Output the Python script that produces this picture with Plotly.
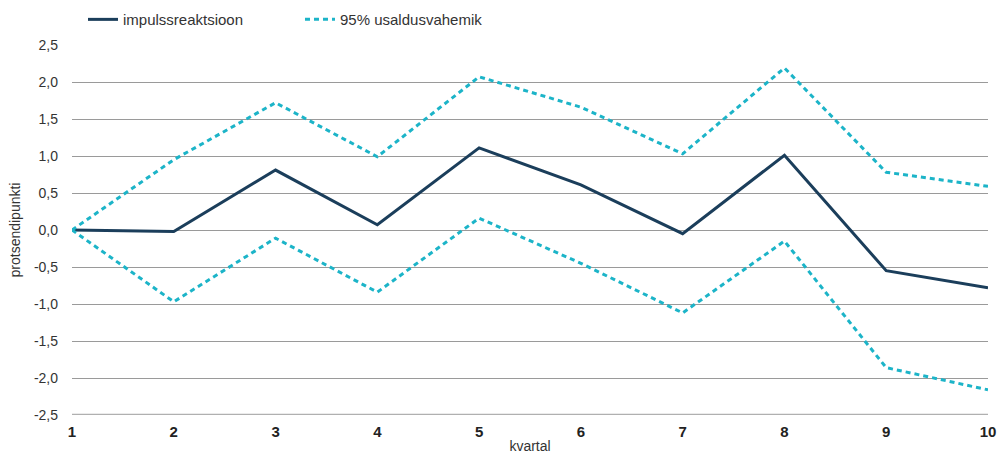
import plotly.graph_objects as go

quarters = [1, 2, 3, 4, 5, 6, 7, 8, 9, 10]
impulse = [0.0, -0.02, 0.81, 0.07, 1.11, 0.61, -0.05, 1.01, -0.55, -0.78]
upper = [0.0, 0.95, 1.72, 0.99, 2.07, 1.66, 1.03, 2.19, 0.78, 0.59]
lower = [0.0, -0.97, -0.11, -0.84, 0.16, -0.45, -1.12, -0.15, -1.86, -2.16]
y_ticks = [-2.5, -2.0, -1.5, -1.0, -0.5, 0.0, 0.5, 1.0, 1.5, 2.0, 2.5]
y_labels = ["-2,5", "-2,0", "-1,5", "-1,0", "-0,5", "0,0", "0,5", "1,0", "1,5", "2,0", "2,5"]

dark = "#1b3e5b"
cyan = "#1cb4c8"

fig = go.Figure()
fig.add_trace(go.Scatter(x=quarters, y=impulse, mode="lines", name="impulssreaktsioon",
                         line=dict(color=dark, width=3)))
fig.add_trace(go.Scatter(x=quarters, y=upper, mode="lines", name="95% usaldusvahemik",
                         line=dict(color=cyan, width=3, dash="5px,4px"), legendgroup="ci"))
fig.add_trace(go.Scatter(x=quarters, y=lower, mode="lines", name="95% usaldusvahemik",
                         line=dict(color=cyan, width=3, dash="5px,4px"), legendgroup="ci", showlegend=False))

fig.update_layout(
    width=1000, height=454,
    margin=dict(l=72, r=12, t=45, b=39, autoexpand=False),
    plot_bgcolor="white", paper_bgcolor="white",
    font=dict(family="Liberation Sans, Arial, sans-serif", size=14, color="#333333"),
    legend=dict(orientation="h", x=0.012, xanchor="left", y=1.024, yanchor="bottom",
                xref="paper", font=dict(size=15, color="#333333"),
                entrywidthmode="pixels", entrywidth=172, bgcolor="rgba(0,0,0,0)"),
    showlegend=True,
)
fig.update_xaxes(range=[1, 10], tickmode="array", tickvals=quarters,
                 ticktext=[f"<b>{q}</b>" for q in quarters],
                 tickfont=dict(family="Liberation Sans Narrow, Arial Narrow, sans-serif", size=15, color="#222222"),
                 showgrid=False, zeroline=False, showline=False, ticks="", ticklen=0, automargin=False,
                 ticklabelstandoff=6,
                 title=dict(text="kvartal", font=dict(size=14, color="#333333"), standoff=5))
fig.update_yaxes(range=[-2.5, 2.5], tickmode="array", tickvals=y_ticks, ticktext=y_labels,
                 showgrid=True, gridcolor="#9a9a9a", gridwidth=1, zeroline=False, showline=False,
                 ticks="", ticklabelstandoff=13, automargin=False,
                 title=dict(text="protsendipunkti", font=dict(size=14, color="#333333"), standoff=9))
fig.add_shape(type="line", xref="paper", yref="y", x0=0, x1=1, y0=-2.5, y1=-2.5,
              line=dict(color="#b0b0b0", width=2.5), layer="below")

fig.write_html("out.html", config={"displayModeBar": False},
               post_script="document.body.style.margin='0';")
